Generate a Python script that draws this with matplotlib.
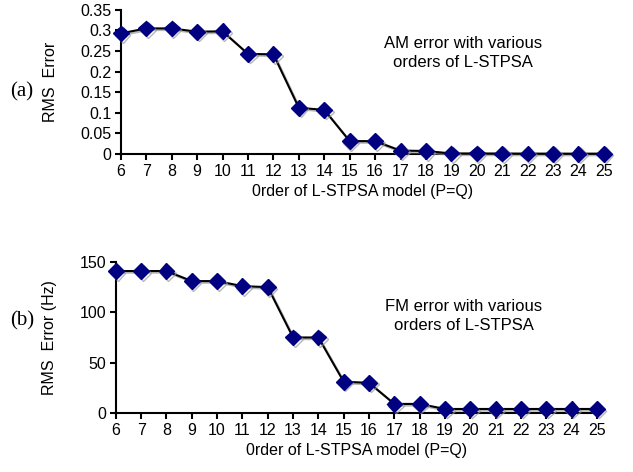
import matplotlib
matplotlib.use("Agg")
import matplotlib.pyplot as plt
import matplotlib.patheffects as pe

# ----- date -----
ordine = list(range(6, 26))
am_err = [0.293, 0.305, 0.305, 0.297, 0.298, 0.243, 0.242, 0.112, 0.107, 0.031,
          0.031, 0.008, 0.007, 0.001, 0.001, 0.0008, 0.0006, 0.0005, 0.0005, 0.0005]
fm_err = [141, 141, 141, 131, 131, 126, 125, 75, 75, 31,
          30, 9, 9, 4, 4, 4, 4, 4, 4, 4]

am_ticks = [0, 0.05, 0.1, 0.15, 0.2, 0.25, 0.3, 0.35]
am_ticklabels = ["0", "0.05", "0.1", "0.15", "0.2", "0.25", "0.3", "0.35"]
fm_ticks = [0, 50, 100, 150]

plt.rcParams["font.family"] = ["Liberation Sans", "DejaVu Sans"]

fig = plt.figure(figsize=(6.33, 4.72), dpi=100)
ax1 = fig.add_axes([0.191, 0.674, 0.763, 0.305])
ax2 = fig.add_axes([0.183, 0.125, 0.760, 0.320])

umbra = [pe.SimpleLineShadow(offset=(1.2, -1.2), shadow_color="#999999", alpha=0.7), pe.Normal()]


def deseneaza(ax, y, yticks, ylim, ylabel, ylabel_x, text, text_xy, eticheta, eticheta_y):
    ax.plot(ordine, y, color="black", lw=1.5, marker="D", markersize=8,
            markerfacecolor="#000080", markeredgecolor="#000080",
            path_effects=umbra, clip_on=False, zorder=3)
    ax.set_xlim(6, 25)
    ax.set_ylim(*ylim)
    ax.set_xticks(ordine)
    ax.set_yticks(yticks)
    for s in ["top", "right"]:
        ax.spines[s].set_visible(False)
    for s in ["left", "bottom"]:
        ax.spines[s].set_linewidth(1.5)
    ax.tick_params(direction="out", width=1.5, length=4, labelsize=11.5, pad=3)
    ax.set_xlabel("0rder of L-STPSA model (P=Q)", fontsize=11.5, labelpad=4)
    ax.set_ylabel(ylabel, fontsize=11.5)
    ax.yaxis.set_label_coords(ylabel_x, 0.5)
    ax.text(text_xy[0], text_xy[1], text, ha="center", va="center",
            fontsize=12, transform=ax.transAxes, linespacing=1.35)
    fig.text(0.016, eticheta_y, eticheta, fontsize=15,
             family=["Liberation Serif", "DejaVu Serif"], va="center")


deseneaza(ax1, am_err, am_ticks, (0, 0.35), "RMS  Error", -0.13,
          "AM error with various\norders of L-STPSA", (0.708, 0.70), "(a)", 0.805)
ax1.set_yticklabels(am_ticklabels)
deseneaza(ax2, fm_err, fm_ticks, (0, 150), "RMS  Error (Hz)", -0.123,
          "FM error with various\norders of L-STPSA", (0.723, 0.64), "(b)", 0.32)

fig.savefig("out.png", dpi=100)
